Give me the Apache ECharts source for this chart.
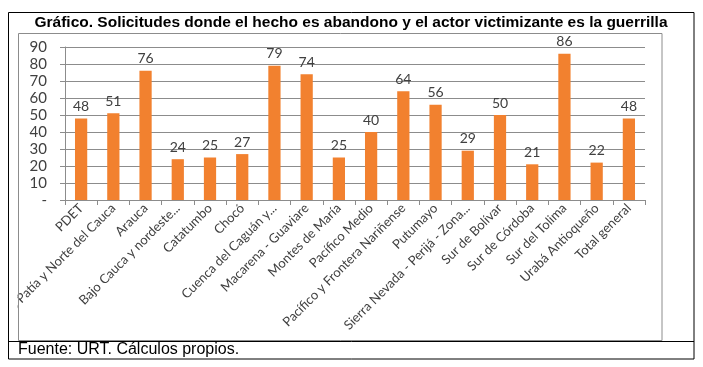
<!DOCTYPE html>
<html>
<head>
<meta charset="utf-8">
<script src="https://cdn.jsdelivr.net/npm/echarts@6/dist/echarts.min.js"></script>
<style>
html,body{margin:0;padding:0;background:#fff;}
#c{width:703px;height:367px;}
</style>
</head>
<body>
<div id="c"></div>
<script>
const titleText = 'Gráfico. Solicitudes donde el hecho es abandono y el actor victimizante es la guerrilla';
const sourceText = 'Fuente: URT. Cálculos propios.';
const categories = ['PDET','Alto Patía y Norte del Cauca','Arauca','Bajo Cauca y nordeste...','Catatumbo','Chocó','Cuenca del Caguán y...','Macarena - Guaviare','Montes de María','Pacífico Medio','Pacífico y Frontera Nariñense','Putumayo','Sierra Nevada - Perijá - Zona...','Sur de Bolívar','Sur de Córdoba','Sur del Tolima','Urabá Antioqueño','Total general'];
const values = [48,51,76,24,25,27,79,74,25,40,64,56,29,50,21,86,22,48];
const yMin = 0, yMax = 90, yStep = 10;

const chart = echarts.init(document.getElementById('c'), null, {renderer:'canvas'});
chart.setOption({
  animation:false,
  backgroundColor:'#ffffff',
  grid:{left:65,right:58,top:47,bottom:167,containLabel:false,outerBoundsMode:'none'},
  xAxis:{
    type:'category',
    data:categories,
    boundaryGap:true,
    axisLine:{show:true,lineStyle:{color:'#8c8c8c',width:1}},
    axisTick:{show:true,length:5,lineStyle:{color:'#8c8c8c'}},
    axisLabel:{interval:0,rotate:45,margin:6,fontFamily:'Lato',fontSize:13,color:'#404040'}
  },
  yAxis:{
    type:'value',min:yMin,max:yMax,interval:yStep,
    axisLine:{show:true,lineStyle:{color:'#8c8c8c',width:1}},
    axisTick:{show:true,length:5,lineStyle:{color:'#8c8c8c'}},
    splitLine:{show:true,lineStyle:{color:'#8c8c8c',width:1}},
    axisLabel:{margin:18,fontFamily:'Lato',fontSize:15,color:'#404040',
      formatter:function(v){return v===0?'-':String(v);}}
  },
  series:[{
    type:'bar',
    data:values,
    barWidth:'38%',
    itemStyle:{color:'#F2812F'},
    label:{show:true,position:'top',distance:5,fontFamily:'Lato',fontSize:14,color:'#404040'}
  }],
  graphic:[
    {type:'rect',z:100,shape:{x:0,y:0,width:17.5,height:367},style:{fill:'#ffffff'}},
    {type:'rect',z:101,shape:{x:18.5,y:33.5,width:643.5,height:307},style:{fill:'none',stroke:'#8c8c8c',lineWidth:1}},
    {type:'rect',z:102,shape:{x:8.5,y:12.5,width:685.5,height:346.5},style:{fill:'none',stroke:'#000000',lineWidth:1}},
    {type:'line',z:102,shape:{x1:8.5,y1:341.5,x2:694,y2:341.5},style:{stroke:'#000000',lineWidth:1}},
    {type:'text',z:103,x:351,y:23,style:{text:titleText,font:'bold 15.5px "Liberation Sans", Arial, sans-serif',fill:'#000000',align:'center',verticalAlign:'middle'}},
    {type:'text',z:103,x:18,y:350,style:{text:sourceText,font:'16px "Liberation Sans", Arial, sans-serif',fill:'#000000',align:'left',verticalAlign:'middle'}}
  ]
});
</script>
</body>
</html>
